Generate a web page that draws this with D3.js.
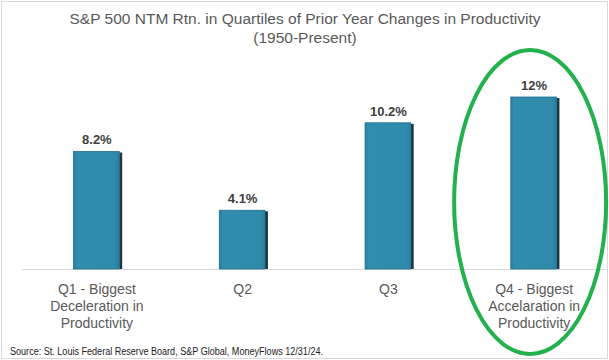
<!DOCTYPE html>
<html><head><meta charset="utf-8">
<script src="https://cdn.jsdelivr.net/npm/d3@7"></script>
<style>body{margin:0;background:#fff}svg{display:block}</style>
</head><body>
<svg id="c" width="609" height="360"></svg>
<script>
const categories = ["Q1 - Biggest|Deceleration in|Productivity", "Q2", "Q3", "Q4 - Biggest|Accelaration in|Productivity"];
const values = [8.2, 4.1, 10.2, 12];
const valueLabels = ["8.2%", "4.1%", "10.2%", "12%"];
const titleLines = ["S&P 500 NTM Rtn. in Quartiles of Prior Year Changes in Productivity", "(1950-Present)"];
const sourceText = "Source: St. Louis Federal Reserve Board, S&P Global, MoneyFlows 12/31/24.";

const svg = d3.select("#c");
const W = 609, H = 360;
const font = "'Liberation Sans', Arial, sans-serif";

// frame
svg.append("rect").attr("x",1.5).attr("y",1.5).attr("width",W-3).attr("height",H-3)
  .attr("fill","none").attr("stroke","#d9d9d9").attr("stroke-width",1);

const x = d3.scaleBand().domain(categories).range([24, 607]).paddingInner(0.68).paddingOuter(0.34);
const y = d3.scaleLinear().domain([0, 12]).range([269, 97]);

const defs = svg.append("defs");
const g = defs.append("linearGradient").attr("id","bg").attr("x1","0").attr("x2","1");
g.append("stop").attr("offset","0").attr("stop-color","#2a7e9e");
g.append("stop").attr("offset","0.08").attr("stop-color","#318dae");
g.append("stop").attr("offset","0.9").attr("stop-color","#2f8aab");
g.append("stop").attr("offset","1").attr("stop-color","#2a7f9f");

// title
svg.append("g").selectAll("text").data(titleLines).join("text")
  .attr("x", 305).attr("y",(d,i)=>24+i*19).attr("text-anchor","middle")
  .attr("font-family",font).attr("font-size",15.5).attr("fill","#595959").text(d=>d);

// baseline
svg.append("line").attr("x1",22).attr("x2",607).attr("y1",y(0)+0.5).attr("y2",y(0)+0.5)
  .attr("stroke","#d9d9d9").attr("stroke-width",1);

const bars = svg.append("g");
bars.selectAll("rect.sh").data(values).join("rect").attr("class","sh")
  .attr("x",(d,i)=>x(categories[i])+x.bandwidth()-1).attr("y",d=>y(d)+1)
  .attr("width",3).attr("height",d=>y(0)-y(d)-1).attr("fill","#1a3a48");
bars.selectAll("rect.b").data(values).join("rect").attr("class","b")
  .attr("x",(d,i)=>x(categories[i])).attr("y",d=>y(d))
  .attr("width",x.bandwidth()-1).attr("height",d=>y(0)-y(d))
  .attr("fill","url(#bg)").attr("stroke","#236f8c").attr("stroke-width",0.8);

// value labels
svg.append("g").selectAll("text").data(values).join("text")
  .attr("x",(d,i)=>x(categories[i])+x.bandwidth()/2).attr("y",d=>y(d)-7)
  .attr("text-anchor","middle").attr("font-family",font).attr("font-weight","bold")
  .attr("font-size",13).attr("fill","#404040").text((d,i)=>valueLabels[i]);

// category labels
const cl = svg.append("g").selectAll("text").data(categories).join("text")
  .attr("text-anchor","middle").attr("font-family",font).attr("font-size",14).attr("fill","#595959");
cl.each(function(d){
  const t = d3.select(this);
  const cx = x(d)+x.bandwidth()/2;
  d.split("|").forEach((s,i)=>{
    t.append("tspan").attr("x",cx).attr("y",294+i*17).text(s);
  });
});

// source
svg.append("text").attr("x",10).attr("y",355).attr("font-family",font).attr("font-size",10)
  .attr("fill","#222").attr("textLength",313).attr("lengthAdjust","spacingAndGlyphs").text(sourceText);

// ellipse highlight
svg.append("ellipse").attr("cx",x(categories[3])+x.bandwidth()/2-4).attr("cy",202).attr("rx",76).attr("ry",152)
  .attr("fill","none").attr("stroke","#22b14c").attr("stroke-width",4);
</script>
</body></html>
